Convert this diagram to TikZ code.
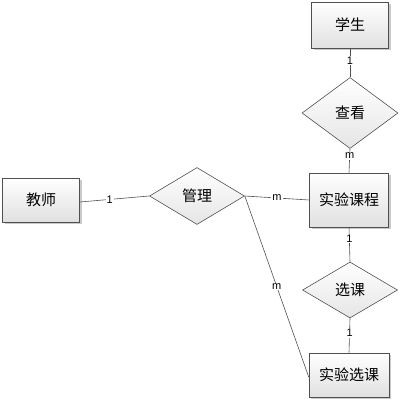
\documentclass[tikz,border=0pt]{standalone}
\usepackage{fontspec}
\setmainfont{Liberation Sans}
\newfontfamily\cjk{Noto Sans CJK SC}
\usetikzlibrary{shapes.geometric,shadows}
\definecolor{edgec}{HTML}{505050}
\tikzset{
  entity/.style={rectangle, draw=edgec, line width=0.6pt, top color=white, bottom color=black!12,
    drop shadow={shadow xshift=2pt, shadow yshift=-2pt, fill=black!35, opacity=0.6},
    font=\cjk\fontsize{15}{16}\selectfont, inner sep=0pt},
  rel/.style={diamond, draw=edgec, line width=0.6pt, top color=white, bottom color=black!10,
    font=\cjk\fontsize{15}{16}\selectfont, inner sep=0pt},
  conn/.style={draw=edgec, line width=0.6pt},
  card/.style={fill=white, inner sep=1pt, font=\fontsize{11}{12}\selectfont, text=black}
}
\begin{document}
\begin{tikzpicture}[x=1pt,y=-1pt]
\useasboundingbox (0,0) rectangle (401,401);
\node[entity, minimum width=77, minimum height=46] (xs) at (350,25) {学生};
\node[rel, minimum width=96, minimum height=71] (ck) at (350,113) {查看};
\node[entity, minimum width=79, minimum height=54] (sykc) at (349,200) {实验课程};
\node[entity, minimum width=77, minimum height=44] (js) at (41,200) {教师};
\node[rel, minimum width=95, minimum height=57] (gl) at (197,196) {管理};
\node[rel, minimum width=95, minimum height=56] (xk) at (350,290) {选课};
\node[entity, minimum width=80, minimum height=44] (syxk) at (349,375) {实验选课};

\draw[conn] (xs.south) -- node[card, pos=0.42] {1} (ck.north);
\draw[conn] (ck.south) -- node[card, pos=0.3] {m} (sykc.north);
\draw[conn] ([yshift=-2]js.east) -- node[card, pos=0.43] {1} (gl.west);
\draw[conn] (gl.east) -- node[card, pos=0.5] {m} (sykc.west);
\draw[conn] (sykc.south) -- node[card, pos=0.33] {1} (xk.north);
\draw[conn] (xk.south) -- node[card, pos=0.43] {1} (syxk.north);
\draw[conn] (gl.east) -- node[card, pos=0.5] {m} ([yshift=-2]syxk.west);
\end{tikzpicture}
\end{document}
